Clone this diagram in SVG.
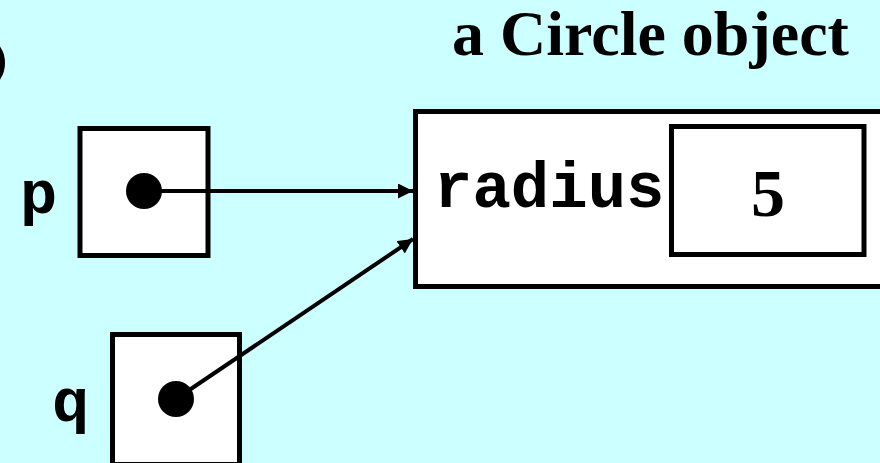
<svg xmlns="http://www.w3.org/2000/svg" width="880" height="463" viewBox="0 0 880 463">
<style>
.box{fill:#fff;stroke:#000;stroke-width:5}
.dot{fill:#000}
.mono{font-family:"Liberation Mono","Courier New",monospace;font-weight:bold;fill:#000}
.serif{font-family:"Liberation Serif","Times New Roman",serif;font-weight:bold;fill:#000}
.conn{stroke:#000;stroke-width:4;fill:none;marker-end:url(#arr)}
</style>
<defs>
<marker id="arr" markerUnits="userSpaceOnUse" markerWidth="16" markerHeight="16" refX="15" refY="7.5" orient="auto">
<path d="M0,0 L15,7.5 L0,15 Z" fill="#000"/>
</marker>
</defs>
<rect width="880" height="463" fill="#CCFFFF"/>
<ellipse cx="-10" cy="63" rx="15" ry="22" fill="#000"/>
<g id="title"><text class="serif" x="452" y="55" font-size="64">a Circle object</text></g>
<g id="circle-object">
<rect class="box" x="415.5" y="111.5" width="470" height="175"/>
<text class="mono" x="434" y="207" font-size="64">radius</text>
<rect class="box" x="671.5" y="126.5" width="192.5" height="128"/>
<text class="serif" x="768" y="216" font-size="68" text-anchor="middle">5</text>
</g>
<g id="p">
<text class="mono" x="20" y="213" font-size="62">p</text>
<rect class="box" x="80" y="128.5" width="128" height="127"/>
<circle class="dot" cx="144" cy="191" r="18"/>
</g>
<g id="q">
<text class="mono" x="52" y="421" font-size="62">q</text>
<rect class="box" x="112.5" y="334.5" width="127" height="130"/>
<circle class="dot" cx="176" cy="399" r="18"/>
</g>
<g id="connectors">
<line class="conn" x1="144" y1="191" x2="413" y2="191"/>
<line class="conn" x1="176" y1="399" x2="413" y2="239"/>
</g>
</svg>
